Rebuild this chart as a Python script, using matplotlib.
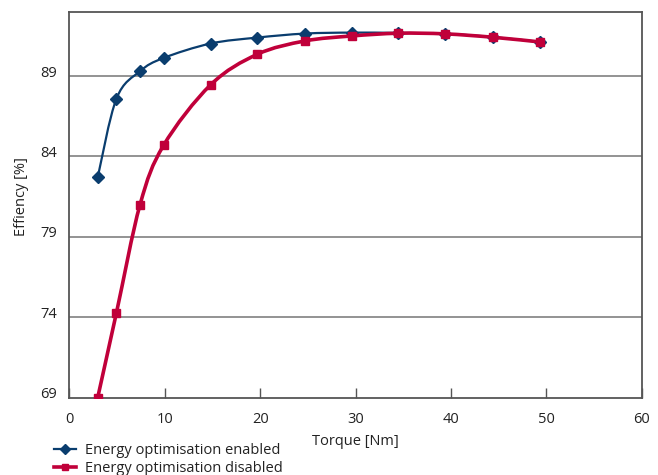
import matplotlib
matplotlib.use("Agg")
import matplotlib.pyplot as plt
from matplotlib.path import Path
from matplotlib.patches import PathPatch
from matplotlib.lines import Line2D
from matplotlib.transforms import ScaledTranslation

plt.rcParams['font.family'] = ['Open Sans', 'DejaVu Sans']

torque = [2.96, 4.93, 7.4, 9.86, 14.8, 19.7, 24.7, 29.6, 34.5, 39.4, 44.4, 49.3]
eff_enabled = [82.7, 87.6, 89.3, 90.12, 91.02, 91.39, 91.64, 91.70, 91.68, 91.63, 91.42, 91.12]
eff_disabled = [69.0, 74.29, 81.0, 84.68, 88.45, 90.35, 91.18, 91.49, 91.66, 91.62, 91.41, 91.12]

x_ticks = [0, 10, 20, 30, 40, 50, 60]
y_ticks = [69, 74, 79, 84, 89]

label_enabled = "Energy optimisation enabled"
label_disabled = "Energy optimisation disabled"
x_label = "Torque [Nm]"
y_label = "Effiency [%]"

blue = '#0a3d6e'
red = '#c0003a'


def smooth_path(xs, ys):
    # Catmull-Rom style Bezier segments through the given data points
    pts = list(zip(xs, ys))
    n = len(pts)
    verts = [pts[0]]
    codes = [Path.MOVETO]
    for i in range(n - 1):
        p0 = pts[i - 1] if i > 0 else pts[i]
        p1 = pts[i]
        p2 = pts[i + 1]
        p3 = pts[i + 2] if i + 2 < n else pts[i + 1]
        c1 = (p1[0] + (p2[0] - p0[0]) / 6.0, p1[1] + (p2[1] - p0[1]) / 6.0)
        c2 = (p2[0] - (p3[0] - p1[0]) / 6.0, p2[1] - (p3[1] - p1[1]) / 6.0)
        verts += [c1, c2, p2]
        codes += [Path.CURVE4, Path.CURVE4, Path.CURVE4]
    return Path(verts, codes)


fig = plt.figure(figsize=(6.58, 4.75), dpi=100)
ax = fig.add_axes([0.1056, 0.163, 0.8695, 0.8107])

ax.set_xlim(0, 60)
ax.set_ylim(69, 92.95)

for y in y_ticks[1:]:
    ax.axhline(y, color='#8a8a8a', lw=1.3, zorder=1)

ax.add_patch(PathPatch(smooth_path(torque, eff_enabled), facecolor='none',
                       edgecolor=blue, lw=1.6, zorder=3))
ax.plot(torque, eff_enabled, linestyle='none', marker='D', markersize=6,
        color=blue, zorder=4)

ax.add_patch(PathPatch(smooth_path(torque, eff_disabled), facecolor='none',
                       edgecolor=red, lw=2.6, zorder=5))
ax.plot(torque, eff_disabled, linestyle='none', marker='s', markersize=6,
        color=red, zorder=6)

ax.set_xticks(x_ticks)
ax.set_yticks(y_ticks)
ax.tick_params(axis='x', direction='in', length=7, width=1, color='#555555',
               labelsize=10.5, pad=10.5, labelcolor='#222222')
ax.tick_params(axis='y', length=0, labelsize=10.5, pad=9, labelcolor='#222222')
shift = ScaledTranslation(0, 3 / 100, fig.dpi_scale_trans)
for tick in ax.yaxis.get_major_ticks():
    tick.label1.set_verticalalignment('center')
    tick.label1.set_transform(tick.label1.get_transform() + shift)

for s in ax.spines.values():
    s.set_color('#555555')
    s.set_linewidth(1.3)

ax.set_xlabel(x_label, fontsize=10.5, color='#222222', labelpad=5)
ax.set_ylabel(y_label, fontsize=10.5, color='#222222')
ax.yaxis.set_label_coords(-0.071, 0.523)

handles = [
    Line2D([], [], color=blue, lw=1.6, marker='D', markersize=5),
    Line2D([], [], color=red, lw=2.6, marker='s', markersize=5),
]
fig.legend(handles, [label_enabled, label_disabled], loc='upper left',
           bbox_to_anchor=(0.082, 0.0674), frameon=False, fontsize=10.5,
           handlelength=1.5, handletextpad=0.62, labelspacing=0.22,
           borderpad=0, borderaxespad=0, labelcolor='#222222')

fig.savefig('out.png', dpi=100)
